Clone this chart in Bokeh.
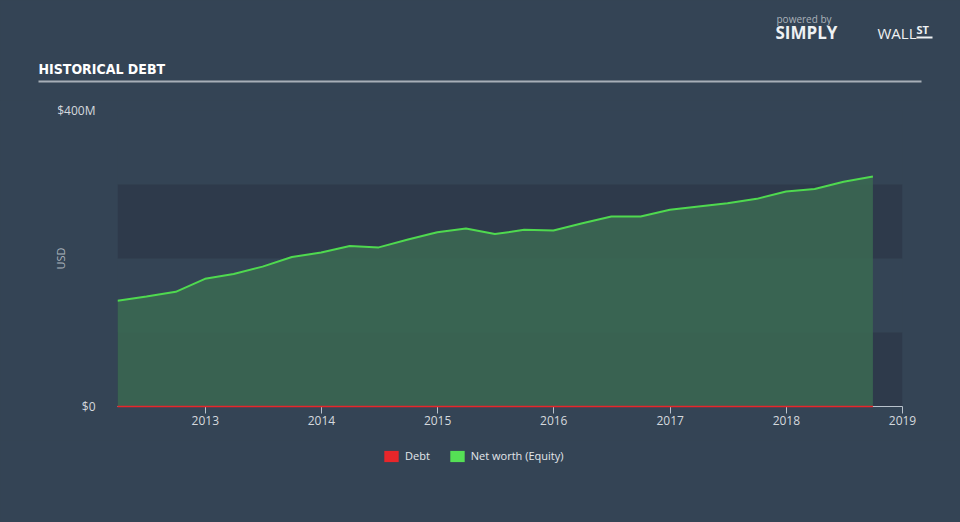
from datetime import datetime
import pandas as pd
from bokeh.plotting import figure
from bokeh.layouts import column
from bokeh.models import (ColumnDataSource, FixedTicker, DatetimeTickFormatter, Legend, LegendItem,
                          Label, BoxAnnotation)
from bokeh.embed import file_html
from bokeh.resources import INLINE

# ---- data ----
dates = ["2012-03-31", "2012-06-30", "2012-09-30", "2012-12-31",
         "2013-03-31", "2013-06-30", "2013-09-30", "2013-12-31",
         "2014-03-31", "2014-06-30", "2014-09-30", "2014-12-31",
         "2015-03-31", "2015-06-30", "2015-09-30", "2015-12-31",
         "2016-03-31", "2016-06-30", "2016-09-30", "2016-12-31",
         "2017-03-31", "2017-06-30", "2017-09-30", "2017-12-31",
         "2018-03-31", "2018-06-30", "2018-09-30"]
equity_m = [143.0, 148.6, 155.0, 172.5, 179.0, 189.0, 202.0, 208.0, 217.0, 215.0,
            225.7, 235.6, 240.5, 233.0, 238.7, 237.8, 247.7, 256.8, 256.8, 265.8,
            270.3, 274.8, 280.6, 290.5, 294.0, 303.6, 310.8]
debt_m = [0.0] * len(dates)
year_ticks = ["2013", "2014", "2015", "2016", "2017", "2018", "2019"]
y_ticks = [0, 400]
y_tick_labels = ["$0", "$400M"]
bands = [(0, 100), (200, 300)]
legend_labels = ["Debt", "Net worth (Equity)"]

BG = "#344455"
BAND = "#2e3a4b"
GREEN = "#4fd94f"
RED = "#e8262a"
TXT = "#d4d9de"
CSS = {"background-color": BG}


def blank(h, flip=True):
    f = figure(width=960, height=h, x_range=(0, 960), y_range=(h, 0) if flip else (0, h),
               min_border=0, output_backend="svg", toolbar_location=None,
               frame_align=False, styles=CSS)
    f.axis.visible = False
    f.grid.visible = False
    f.outline_line_color = None
    f.background_fill_color = BG
    f.border_fill_color = BG
    return f


# ---- header (canvas rows 0-100) ----
head = blank(100)
head.add_layout(Label(x=38, y=68, text="HISTORICAL DEBT", text_color="#ffffff",
                      text_font="DejaVu Sans Condensed, Roboto", text_font_style="bold",
                      text_font_size="14px", text_baseline="middle"))
head.add_layout(BoxAnnotation(left=38, right=921, top=80, bottom=82, fill_color="#a7afb8",
                              fill_alpha=1, line_color=None))
head.add_layout(Label(x=776, y=18, text="powered by", text_color="#aab2ba", text_font="Open Sans",
                      text_font_size="10px", text_baseline="middle"))
head.add_layout(Label(x=775, y=32, text="SIMPLY", text_color="#eef1f3", text_font="Open Sans",
                      text_font_style="bold", text_font_size="17px", text_baseline="middle"))
head.add_layout(Label(x=877, y=32, text="WALL", text_color="#eef1f3", text_font="Open Sans",
                      text_font_size="15px", text_baseline="middle"))
head.add_layout(Label(x=916, y=29, text="ST", text_color="#eef1f3", text_font="Open Sans",
                      text_font_style="bold", text_font_size="11px", text_baseline="middle"))
head.add_layout(BoxAnnotation(left=916, right=932, top=36, bottom=38, fill_color="#eef1f3",
                              fill_alpha=1, line_color=None))

# ---- main chart (canvas rows 100-440) ----
src = ColumnDataSource(dict(x=pd.to_datetime(dates), eq=equity_m, debt=debt_m,
                            zero=[0.0] * len(dates)))

p = figure(width=960, height=340, x_axis_type="datetime",
           x_range=(datetime(2012, 3, 31), datetime(2019, 1, 1)), y_range=(0, 400),
           output_backend="svg", toolbar_location=None, frame_align=False, styles=CSS,
           min_border_left=117, min_border_right=58, min_border_top=10, min_border_bottom=34)
p.background_fill_color = BG
p.border_fill_color = BG
p.outline_line_color = None
p.xgrid.visible = False
p.ygrid.visible = False

for lo, hi in bands:
    p.add_layout(BoxAnnotation(bottom=lo, top=hi, fill_color=BAND, fill_alpha=1.0,
                               line_color=None, level="underlay"))

p.varea(x="x", y1="zero", y2="eq", source=src, fill_color="#3b6a52", fill_alpha=0.85)
p.line(x="x", y="eq", source=src, line_color=GREEN, line_width=2)
p.line(x="x", y="debt", source=src, line_color=RED, line_width=1.5, level="overlay")

xa = p.xaxis[0]
xa.ticker = FixedTicker(ticks=[pd.Timestamp(y + "-01-01").value / 1e6 for y in year_ticks])
xa.formatter = DatetimeTickFormatter(years="%Y", months="%Y", days="%Y", hours="%Y")
xa.axis_line_color = "#b9c2cc"
xa.axis_line_width = 1
xa.major_tick_line_color = "#b9c2cc"
xa.major_tick_out = 7
xa.major_tick_in = 0
xa.minor_tick_line_color = None
xa.major_label_text_color = TXT
xa.major_label_text_font = "Open Sans"
xa.major_label_text_font_size = "12px"
xa.major_label_standoff = 2

ya = p.yaxis[0]
ya.ticker = FixedTicker(ticks=y_ticks)
ya.major_label_overrides = {t: l for t, l in zip(y_ticks, y_tick_labels)}
ya.axis_line_color = None
ya.major_tick_line_color = None
ya.minor_tick_line_color = None
ya.major_label_text_color = TXT
ya.major_label_text_font = "Open Sans"
ya.major_label_text_font_size = "12px"
ya.major_label_standoff = 16
ya.axis_label = "USD"
ya.axis_label_text_color = "#a9b2bb"
ya.axis_label_text_font = "Open Sans"
ya.axis_label_text_font_style = "normal"
ya.axis_label_text_font_size = "11px"
ya.axis_label_standoff = -14

# ---- legend row (canvas rows 440-522) ----
foot = blank(82, flip=False)
swatch_debt = foot.rect(x=[0], y=[0], width=0, height=0, fill_color=RED, line_color=None)
swatch_eq = foot.rect(x=[0], y=[0], width=0, height=0, fill_color="#55e055", line_color=None)
leg = Legend(items=[LegendItem(label=legend_labels[0], renderers=[swatch_debt]),
                    LegendItem(label=legend_labels[1], renderers=[swatch_eq])],
             orientation="horizontal", location=(382, 59),
             glyph_width=18, glyph_height=14, label_height=14, label_standoff=5, spacing=18,
             padding=0, margin=0, border_line_color=None, background_fill_alpha=0,
             label_text_color="#e3e7eb", label_text_font="Open Sans", label_text_font_size="11px")
foot.add_layout(leg)

layout = column(head, p, foot, spacing=0, styles=CSS)
open("out.html", "w").write(file_html(layout, INLINE))
